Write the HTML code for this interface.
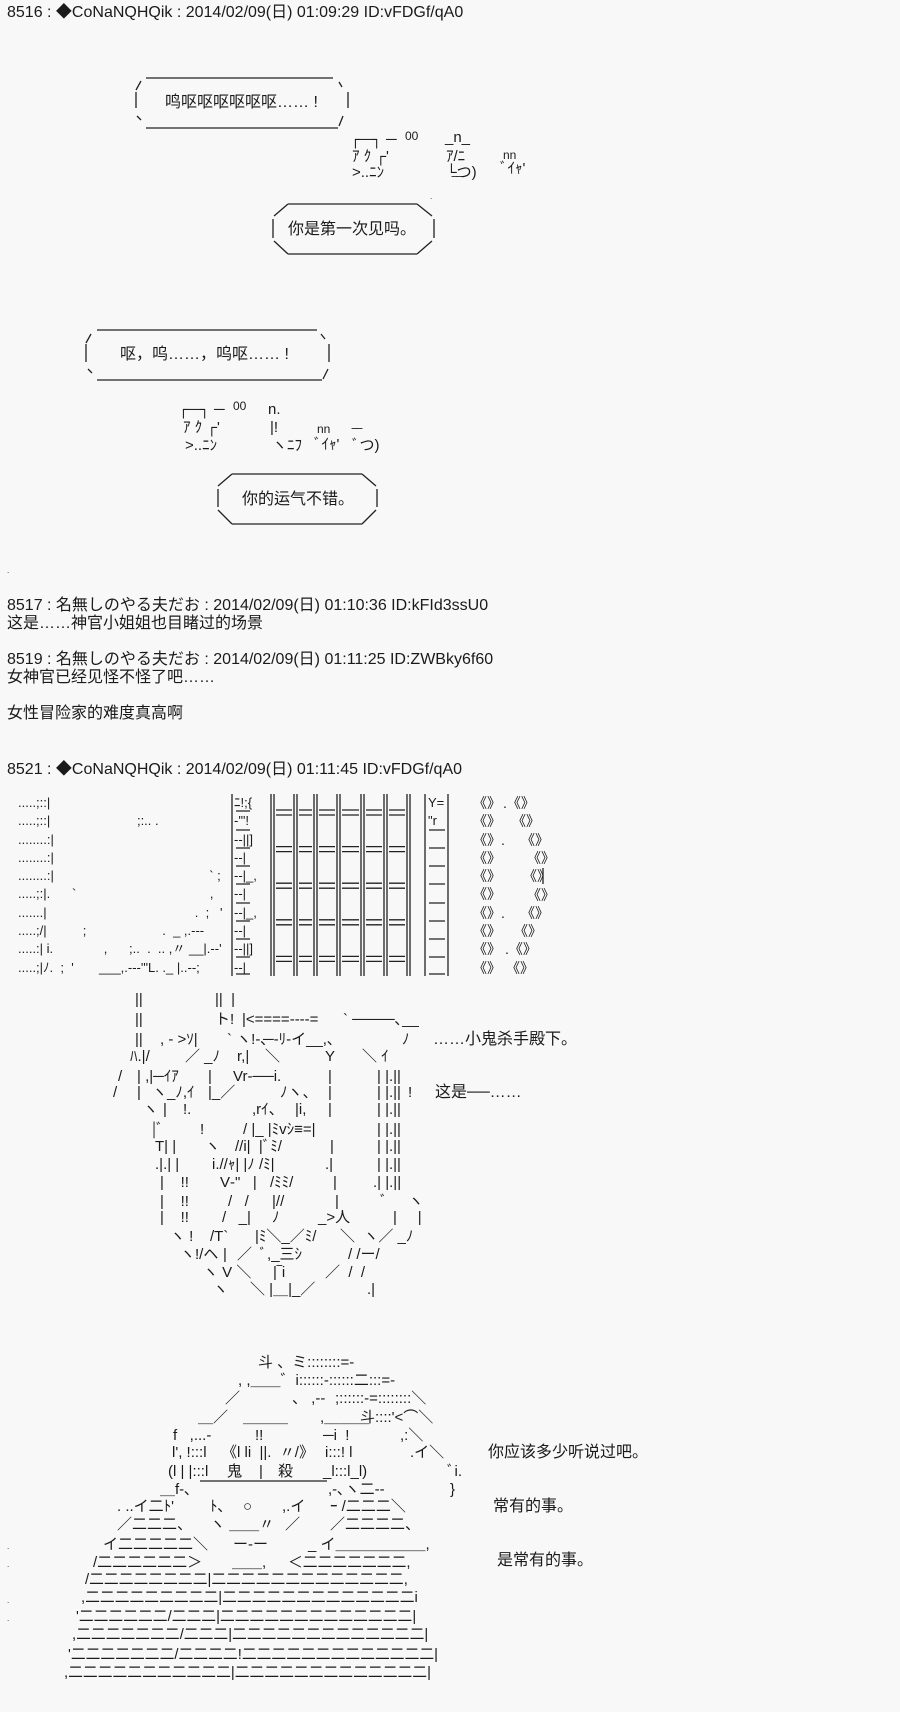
<!DOCTYPE html>
<html><head><meta charset="utf-8">
<style>
html,body{margin:0;padding:0;background:#f8f8f8;}
body{width:900px;height:1712px;position:relative;overflow:hidden;font-family:"Liberation Sans","Noto Sans CJK JP",sans-serif;font-size:16px;color:#1a1a1a;}
.t{position:absolute;white-space:pre;line-height:18px;}
.a{position:absolute;white-space:pre;line-height:18.3px;font-size:13px;}
.s{position:absolute;white-space:pre;line-height:18px;font-size:15px;}
.w{position:absolute;white-space:pre;line-height:18px;font-size:14px;}
svg{position:absolute;left:0;top:0;}
</style></head><body>
<svg width="900" height="1712" stroke="#222" stroke-width="1.3" fill="none">
<path d="M146 78H333 M146 128H338 M136 92V108 M348 92V108 M141 81L136 90 M339 82L342 87 M137 116L141 120 M343 116L339 126"/>
<path d="M288 204H417 M288 254H417 M273 219V238 M434 219V238 M288 204L274 216 M417 204L432 216 M274 241L288 254 M432 241L417 254"/>
<path d="M97 330H317 M97 380H322 M86 344V362 M329 344V362 M91 334L86 343 M321 334L325 339 M88 369L92 373 M328 369L323 379"/>
<path d="M232 474H362 M232 524H362 M218 489V507 M377 489V507 M232 474L218 486 M362 474L376 486 M218 510L232 524 M376 510L362 524"/>
<g>
<path d="M232 794V976 M448 794V976 M425 794V976"/>
<path d="M271 794V976 M274 794V976 M294 794V976 M297 794V976 M314 794V976 M317 794V976 M337 794V976 M340 794V976 M361 794V976 M364 794V976 M384 794V976 M387 794V976 M407 794V976 M410 794V976"/>
<g id="hp">
<path d="M276 810H292 M299 810H312 M319 810H335 M342 810H359 M366 810H382 M389 810H405"/>
<path d="M276 815H292 M299 815H312 M319 815H335 M342 815H359 M366 815H382 M389 815H405"/>
</g>
<use href="#hp" y="36.6"/><use href="#hp" y="73.2"/><use href="#hp" y="109.8"/><use href="#hp" y="146.4"/>
<path d="M236 811H250 M236 830H250 M236 848H250 M236 866H250 M236 884H250 M236 903H250 M236 921H250 M236 939H250 M236 957H250 M236 974H250"/>
<path d="M429 830H445 M429 848H445 M429 866H445 M429 884H445 M429 903H445 M429 921H445 M429 939H445 M429 957H445 M429 974H445"/>
<path d="M543 868V884"/>
</g>
<path d="M200 1481H327"/>
</svg>

<div class="t" style="left:7px;top:4px">8516 : ◆CoNaNQHQik : 2014/02/09(日) 01:09:29 ID:vFDGf/qA0</div>
<div class="t" style="left:165px;top:94px">鸣呕呕呕呕呕呕…… !</div>
<div class="s" style="left:350px;top:131px">┌─┐ ─</div><div class="s" style="left:405px;top:127px;font-size:12px">00</div>
<div class="s" style="left:445px;top:129px">_n_</div>
<div class="s" style="left:352px;top:148px">ｱ ｸ ┌'</div><div class="s" style="left:446px;top:148px">ｱ/ﾆ</div>
<div class="s" style="left:503px;top:146px;font-size:12px">nn</div>
<div class="s" style="left:352px;top:164px">&gt;..ﾆﾝ</div><div class="s" style="left:446px;top:164px">└つ)</div><div class="s" style="left:500px;top:160px">ﾞｲｬ'</div>
<div class="s" style="left:452px;top:175px">‾‾</div>
<div class="t" style="left:430px;top:188px;font-size:8px">.</div>
<div class="t" style="left:288px;top:221px">你是第一次见吗。</div>
<div class="t" style="left:120px;top:346px">呕，呜……，呜呕…… !</div>
<div class="s" style="left:178px;top:401px">┌─┐ ─</div><div class="s" style="left:233px;top:397px;font-size:12px">00</div>
<div class="s" style="left:268px;top:401px">n.</div>
<div class="s" style="left:183px;top:419px">ｱ ｸ ┌'</div><div class="s" style="left:270px;top:419px">|!</div>
<div class="s" style="left:317px;top:420px;font-size:12px">nn</div><div class="s" style="left:352px;top:427px">‾‾</div>
<div class="s" style="left:185px;top:437px">&gt;..ﾆﾝ</div><div class="s" style="left:272px;top:437px">ヽﾆﾌ</div><div class="s" style="left:314px;top:436px">ﾞｲｬ'</div><div class="s" style="left:352px;top:437px">ﾞつ)</div>
<div class="t" style="left:242px;top:491px">你的运气不错。</div>
<div class="t" style="left:7px;top:562px;font-size:8px">.</div>
<div class="t" style="left:7px;top:597px">8517 : 名無しのやる夫だお : 2014/02/09(日) 01:10:36 ID:kFId3ssU0
这是……神官小姐姐也目睹过的场景

8519 : 名無しのやる夫だお : 2014/02/09(日) 01:11:25 ID:ZWBky6f60
女神官已经见怪不怪了吧……

女性冒险家的难度真高啊</div>
<div class="t" style="left:7px;top:761px">8521 : ◆CoNaNQHQik : 2014/02/09(日) 01:11:45 ID:vFDGf/qA0</div>

<div class="a" style="left:18px;top:794px">.....;::|
.....;::|                        ;:.. .
........:|
........:|
........:|                                           ` ;
.....;:|.      `                                     ,
.......|                                         .  ;   '
.....;/|          ;                     .  _ ,.--‐
.....:| i.              ,      ;..  .  .. ,〃 __|.--'
.....;|ﾉ.  ;  '       ___,.--‐'"L. ._ |..--;</div>
<div class="a" style="left:234px;top:794px">ﾆ!;{
-'"!
-‐||]
-‐|
-‐|_,
-‐|
-‐|_,
-‐|
-‐||]
-‐|</div>
<div class="a" style="left:428px;top:794px">Y=
"r</div>
<div class="a" style="left:473px;top:794px;font-size:14px">《》
《》
《》.
《》
《》
《》
《》.
《》
《》
《》</div>
<div class="w" style="left:503px;top:794px">.《》</div>
<div class="w" style="left:512px;top:812px">《》</div>
<div class="w" style="left:521px;top:831px">《》</div>
<div class="w" style="left:527px;top:849px">《》</div>
<div class="w" style="left:523px;top:867px">《》</div>
<div class="w" style="left:527px;top:886px">《》</div>
<div class="w" style="left:521px;top:904px">《》</div>
<div class="w" style="left:514px;top:922px">《》</div>
<div class="w" style="left:505px;top:940px">.《》</div>
<div class="w" style="left:506px;top:959px">《》</div>

<!-- robot -->
<div class="s" style="left:135px;top:991px">||</div><div class="s" style="left:215px;top:991px">||  |</div>
<div class="s" style="left:135px;top:1011px">||</div><div class="s" style="left:215px;top:1011px">ト!</div><div class="s" style="left:242px;top:1011px">|&lt;====----=</div><div class="s" style="left:343px;top:1011px">` ────､__</div>
<div class="s" style="left:135px;top:1031px">||</div><div class="s" style="left:160px;top:1031px">, - &gt;ｿ|</div><div class="s" style="left:227px;top:1031px">` ヽ!-､</div><div class="s" style="left:263px;top:1031px">─‐ﾘ-イ__,､</div><div class="s" style="left:402px;top:1031px">ﾉ</div>
<div class="s" style="left:130px;top:1048px">ﾊ.|/</div><div class="s" style="left:185px;top:1048px">／ _ﾉ</div><div class="s" style="left:237px;top:1048px">r,|</div><div class="s" style="left:265px;top:1048px">＼</div><div class="s" style="left:325px;top:1048px">Y</div><div class="s" style="left:362px;top:1048px">＼ ｲ</div>
<div class="s" style="left:118px;top:1068px">/</div><div class="s" style="left:137px;top:1068px">| ,|─ｲｱ</div><div class="s" style="left:208px;top:1068px">|</div><div class="s" style="left:233px;top:1068px">Vr‐──i.</div><div class="s" style="left:328px;top:1068px">|</div><div class="s" style="left:377px;top:1068px">| |.||</div>
<div class="s" style="left:113px;top:1084px">/</div><div class="s" style="left:137px;top:1084px">|</div><div class="s" style="left:152px;top:1084px">ヽ_ﾉ,ｲ</div><div class="s" style="left:208px;top:1084px">|_／</div><div class="s" style="left:280px;top:1084px">ﾉヽ、</div><div class="s" style="left:328px;top:1084px">|</div><div class="s" style="left:377px;top:1084px">| |.||</div><div class="s" style="left:408px;top:1084px">!</div>
<div class="s" style="left:143px;top:1101px">ヽ</div><div class="s" style="left:163px;top:1101px">|</div><div class="s" style="left:183px;top:1101px">!.</div><div class="s" style="left:252px;top:1101px">,rｲ、</div><div class="s" style="left:295px;top:1101px">|i,</div><div class="s" style="left:328px;top:1101px">|</div><div class="s" style="left:377px;top:1101px">| |.||</div>
<div class="s" style="left:152px;top:1121px">|ﾞ</div><div class="s" style="left:200px;top:1121px">!</div><div class="s" style="left:243px;top:1121px">/ |_ |ﾐvｼ≡=|</div><div class="s" style="left:377px;top:1121px">| |.||</div>
<div class="s" style="left:155px;top:1138px">T| |</div><div class="s" style="left:205px;top:1138px">ヽ</div><div class="s" style="left:235px;top:1138px">//i|  |ﾞﾐ/</div><div class="s" style="left:330px;top:1138px">|</div><div class="s" style="left:377px;top:1138px">| |.||</div>
<div class="s" style="left:155px;top:1156px">.|.| |</div><div class="s" style="left:212px;top:1156px">i.//ｬ| |ﾉ /ﾐ|</div><div class="s" style="left:325px;top:1156px">.|</div><div class="s" style="left:377px;top:1156px">| |.||</div>
<div class="s" style="left:160px;top:1174px">|    !!</div><div class="s" style="left:220px;top:1174px">V‐"   |</div><div class="s" style="left:270px;top:1174px">/ﾐﾐ/</div><div class="s" style="left:333px;top:1174px">|</div><div class="s" style="left:373px;top:1174px">.| |.||</div>
<div class="s" style="left:160px;top:1193px">|    !!</div><div class="s" style="left:228px;top:1193px">/   /</div><div class="s" style="left:272px;top:1193px">|//</div><div class="s" style="left:335px;top:1193px">|</div><div class="s" style="left:380px;top:1193px">ﾞ     ヽ</div>
<div class="s" style="left:160px;top:1209px">|    !!</div><div class="s" style="left:222px;top:1209px">/   _|</div><div class="s" style="left:272px;top:1209px">ﾉ</div><div class="s" style="left:318px;top:1209px">_&gt;人</div><div class="s" style="left:393px;top:1209px">|     |</div>
<div class="s" style="left:170px;top:1228px">ヽ !</div><div class="s" style="left:210px;top:1228px">/T`</div><div class="s" style="left:255px;top:1228px">|ﾐ＼_／ﾐ/</div><div class="s" style="left:340px;top:1228px">＼  ヽ／ _ﾉ</div>
<div class="s" style="left:180px;top:1246px">ヽ!/ヘ</div><div class="s" style="left:223px;top:1246px">|</div><div class="s" style="left:237px;top:1246px">／  ﾞ,_三ｼ</div><div class="s" style="left:348px;top:1246px">/ /ー/</div>
<div class="s" style="left:203px;top:1264px">ヽ V ＼</div><div class="s" style="left:273px;top:1264px">|‾i</div><div class="s" style="left:325px;top:1264px">／  /  /</div>
<div class="s" style="left:213px;top:1281px">ヽ</div><div class="s" style="left:250px;top:1281px">＼ |＿|_／</div><div class="s" style="left:367px;top:1281px">.|</div>

<div class="t" style="left:433px;top:1031px">……小鬼杀手殿下。</div>
<div class="t" style="left:435px;top:1084px">这是──……</div>

<!-- bottom AA -->
<div class="s" style="left:258px;top:1354px">斗 、ミ::::::::=-</div>
<div class="s" style="left:238px;top:1372px">, ,＿＿゛i::::::-::::::二:::=-</div>
<div class="s" style="left:225px;top:1390px">／</div><div class="s" style="left:292px;top:1390px">、 ,--</div><div class="s" style="left:335px;top:1390px">;::::::-=::::::::＼</div>
<div class="s" style="left:198px;top:1409px">＿／</div><div class="s" style="left:243px;top:1409px">＿＿＿</div><div class="s" style="left:320px;top:1409px">,＿＿＿</div><div class="s" style="left:360px;top:1409px">斗::::'&lt;⌒＼</div>
<div class="s" style="left:173px;top:1427px">f   ,...-</div><div class="s" style="left:255px;top:1427px">!!</div><div class="s" style="left:323px;top:1427px">─i  !</div><div class="s" style="left:400px;top:1427px">,:＼</div>
<div class="s" style="left:172px;top:1444px">l', !:::l</div><div class="s" style="left:222px;top:1444px">《l li  ||.  〃/》</div><div class="s" style="left:325px;top:1444px">i:::! l</div><div class="s" style="left:410px;top:1444px">.イ＼</div>
<div class="s" style="left:168px;top:1463px">(l | |:::l</div><div class="s" style="left:227px;top:1463px">鬼</div><div class="s" style="left:259px;top:1463px">|</div><div class="s" style="left:278px;top:1463px">殺</div><div class="s" style="left:323px;top:1463px">_l:::l_l)</div><div class="s" style="left:447px;top:1463px">ﾞi.</div>
<div class="s" style="left:160px;top:1481px">＿f-､</div><div class="s" style="left:328px;top:1481px">,-､ヽ二--</div><div class="s" style="left:450px;top:1481px">}</div>
<div class="s" style="left:117px;top:1498px">. ..イ二ﾄ'</div><div class="s" style="left:210px;top:1498px">ﾄ､</div><div class="s" style="left:243px;top:1498px">○</div><div class="s" style="left:282px;top:1498px">,.イ</div><div class="s" style="left:330px;top:1498px">ｰ /二二二＼</div>
<div class="s" style="left:117px;top:1516px">／二二二、</div><div class="s" style="left:210px;top:1516px">ヽ ＿＿〃</div><div class="s" style="left:285px;top:1516px">／</div><div class="s" style="left:330px;top:1516px">／二二二二、</div>
<div class="s" style="left:103px;top:1536px">イ二二二二二＼</div><div class="s" style="left:233px;top:1536px">ー‐ー</div><div class="s" style="left:308px;top:1536px">_ イ＿＿＿＿＿＿,</div>
<div class="s" style="left:93px;top:1554px;font-size:15px">/二二二二二二＞</div><div class="s" style="left:232px;top:1554px">＿＿,</div><div class="s" style="left:288px;top:1554px;font-size:14.8px">＜二二二二二二二,</div>
<div class="s" style="left:85px;top:1571px;font-size:14.8px">/二二二二二二二二|二二二二二二二二二二二二二,</div>
<div class="s" style="left:81px;top:1589px;font-size:14.8px">,二二二二二二二二二|二二二二二二二二二二二二二i</div>
<div class="s" style="left:76px;top:1608px;font-size:14.8px">'二二二二二二/二二二|二二二二二二二二二二二二二|</div>
<div class="s" style="left:72px;top:1626px;font-size:14.8px">,二二二二二二二/二二二|二二二二二二二二二二二二二|</div>
<div class="s" style="left:68px;top:1646px;font-size:14.8px">'二二二二二二二/二二二二!二二二二二二二二二二二二二|</div>
<div class="s" style="left:64px;top:1664px;font-size:14.8px">,二二二二二二二二二二二|二二二二二二二二二二二二二|</div>

<div class="t" style="left:488px;top:1444px">你应该多少听说过吧。</div>
<div class="t" style="left:493px;top:1498px">常有的事。</div>
<div class="t" style="left:497px;top:1552px">是常有的事。</div>
<div class="t" style="left:7px;top:1538px;font-size:8px">.
.

.
.</div>
</body></html>
